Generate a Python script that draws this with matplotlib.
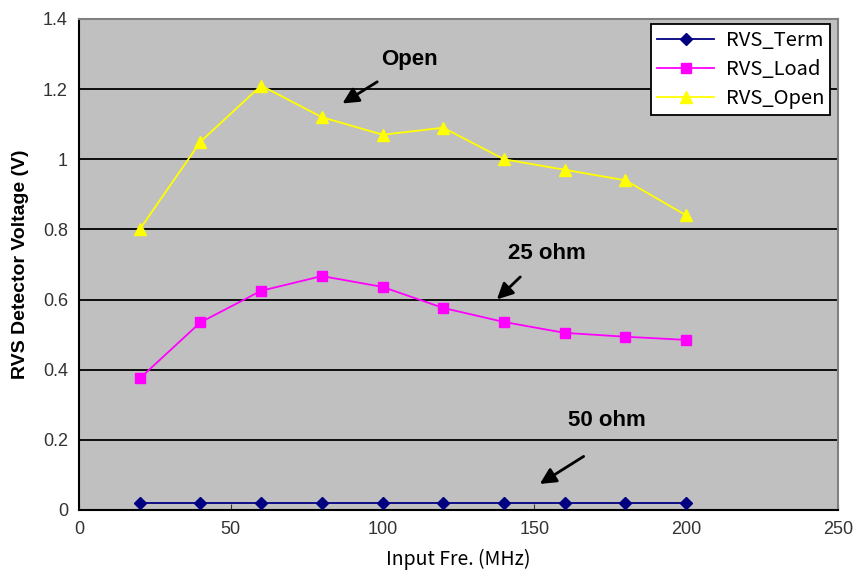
"""RVS detector voltage vs input frequency for three terminations."""

import matplotlib

matplotlib.use("Agg")
import matplotlib.pyplot as plt

freq_mhz = [20, 40, 60, 80, 100, 120, 140, 160, 180, 200]
rvs_term = [0.02] * 10
rvs_load = [0.375, 0.535, 0.625, 0.667, 0.636, 0.576, 0.536, 0.505, 0.494, 0.485]
rvs_open = [0.80, 1.05, 1.21, 1.12, 1.07, 1.09, 1.00, 0.97, 0.94, 0.84]

x_ticks = [0, 50, 100, 150, 200, 250]
y_ticks = [0, 0.2, 0.4, 0.6, 0.8, 1.0, 1.2, 1.4]
y_tick_labels = ["0", "0.2", "0.4", "0.6", "0.8", "1", "1.2", "1.4"]

plt.rcParams["font.family"] = ["Liberation Sans", "DejaVu Sans"]


def main() -> None:
    fig = plt.figure(figsize=(8.55, 5.79), dpi=100)
    ax = fig.add_axes([0.0924, 0.1192, 0.8877, 0.8480])
    ax.set_facecolor("#C0C0C0")

    ax.plot(freq_mhz, rvs_term, color="#000080", marker="D", markersize=6,
            linewidth=1.3, label="RVS_Term", zorder=3)
    ax.plot(freq_mhz, rvs_load, color="#FF00FF", marker="s", markersize=7,
            linewidth=1.3, label="RVS_Load", zorder=3)
    ax.plot(freq_mhz, rvs_open, color="#FFFF00", marker="^", markersize=8,
            linewidth=1.3, label="RVS_Open", zorder=3)

    ax.set_xlim(0, 250)
    ax.set_ylim(0, 1.4)
    ax.set_xticks(x_ticks)
    ax.set_yticks(y_ticks)
    ax.set_yticklabels(y_tick_labels)
    ax.tick_params(axis="both", labelsize=13, colors="#333333", length=4,
                   direction="in", pad=8)
    ax.tick_params(axis="y", length=0)
    ax.yaxis.grid(True, color="black", linewidth=1.3)
    ax.set_axisbelow(True)

    for side in ("left", "bottom"):
        ax.spines[side].set_color("black")
        ax.spines[side].set_linewidth(1.5)
    for side in ("top", "right"):
        ax.spines[side].set_color("#808080")
        ax.spines[side].set_linewidth(1.5)

    ax.set_ylabel("RVS Detector Voltage (V)", fontsize=14, fontweight="bold",
                  labelpad=10)
    ax.set_xlabel("Input Fre. (MHz)", fontsize=14, labelpad=8,
                  family=["Noto Sans CJK KR", "DejaVu Sans"])

    bold = dict(fontsize=16, fontweight="bold", ha="center", va="center")
    arrow = dict(arrowstyle="-|>", color="black", lw=2, mutation_scale=24)
    ax.text(109, 1.285, "Open", **bold)
    ax.annotate("", xy=(86, 1.155), xytext=(99, 1.225), arrowprops=arrow)
    ax.text(154, 0.73, "25 ohm", **bold)
    ax.annotate("", xy=(137, 0.595), xytext=(146, 0.67), arrowprops=arrow)
    ax.text(174, 0.255, "50 ohm", **bold)
    ax.annotate("", xy=(151, 0.07), xytext=(167, 0.157), arrowprops=arrow)

    leg = ax.legend(loc="upper right", bbox_to_anchor=(0.99, 0.99),
                    frameon=True, fancybox=False, borderaxespad=0,
                    handlelength=2.8, handletextpad=0.6, labelspacing=0.4,
                    borderpad=0.3,
                    prop={"family": ["Noto Sans CJK KR", "DejaVu Sans"],
                          "size": 14.5})
    leg.get_frame().set_edgecolor("black")
    leg.get_frame().set_linewidth(1.3)
    leg.get_frame().set_facecolor("white")
    leg.get_frame().set_alpha(1)

    fig.savefig("out.png", dpi=100)


if __name__ == "__main__":
    main()
